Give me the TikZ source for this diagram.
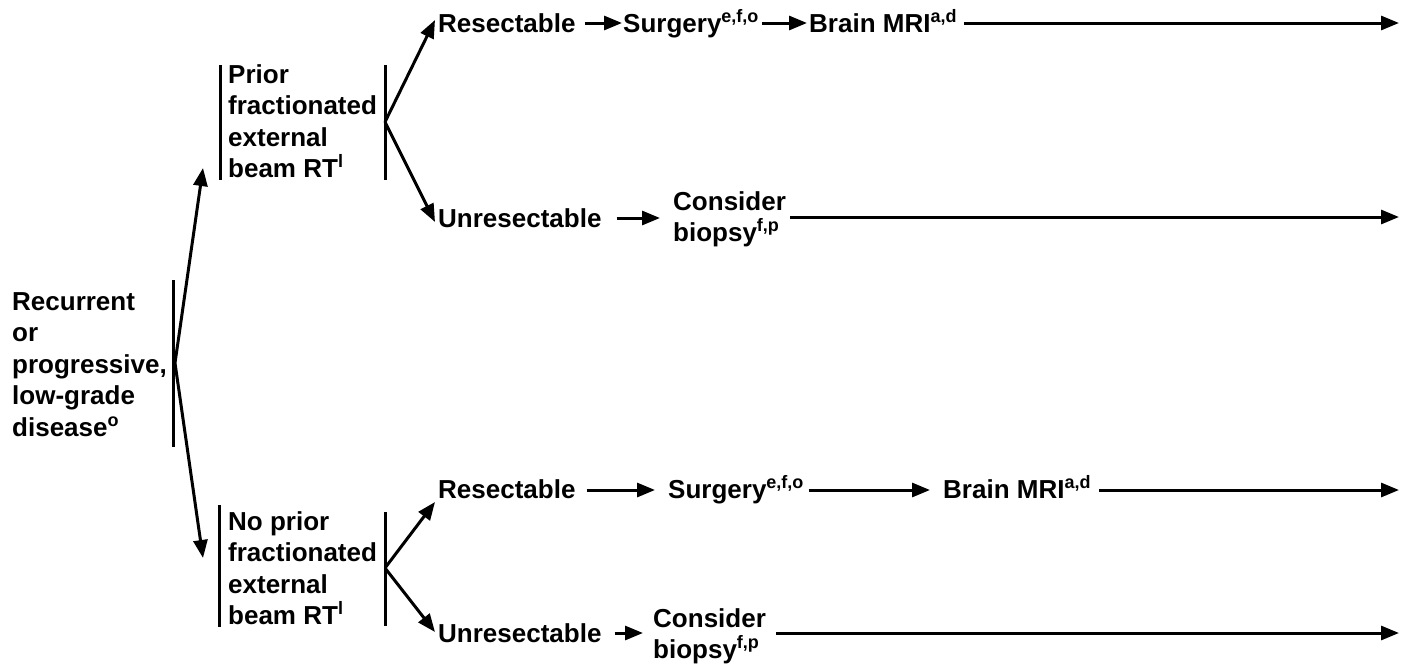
\documentclass[tikz,border=0pt]{standalone}
\usepackage{fontspec}
\setmainfont{Liberation Sans}
\usetikzlibrary{arrows.meta,calc}
% raised footnote-style letters
\newcommand{\supx}[1]{\raisebox{10pt}{\fontsize{18}{18}\selectfont #1}}
% fixed height for the first line of stacked labels
\newcommand{\topstrut}{\rule{0pt}{20pt}}
\begin{document}
\begin{tikzpicture}[x=1pt,y=-1pt,
  txt/.style={font=\fontsize{26}{31.5}\selectfont\bfseries, inner sep=0pt},
  one/.style={txt, anchor=base west},
  multi/.style={txt, align=left, anchor=north west},
  bar/.style={line width=3pt},
  arr/.style={line width=3pt, -{Triangle[length=18pt,width=14pt]}}]
\useasboundingbox (0,0) rectangle (1401,664);

% starting condition
\node[multi] (dis) at (12,290) {\topstrut Recurrent\\or\\progressive,\\low-grade\\disease\supx{o}};
\draw[bar] (173,280) -- (173,447);
\coordinate (s0) at (175,363);

% prior RT branch
\node[multi] (prior) at (228,63) {\topstrut Prior\\fractionated\\external\\beam RT\supx{l}};
\draw[bar] (220,65) -- (220,180);
\draw[bar] (385,65) -- (385,180);
\coordinate (s1) at (385,122);
\coordinate (t1) at (203,168);
\draw[arr] (s0) -- (t1);

\node[one] (res1) at (438,32) {Resectable};
\node[one] (surg1) at (623,32) {Surgery\supx{e,f,o}};
\node[one] (mri1) at (809,32) {Brain MRI\supx{a,d}};
\coordinate (e1) at (1399,23);
\draw[arr] (s1) -- ([shift={(-3,-12)}]res1.base west);
\draw[arr] ([shift={(9,-9)}]res1.base east) -- ([shift={(-1,-9)}]surg1.base west);
\draw[arr] ([shift={(3,-9)}]surg1.base east) -- ([shift={(-2,-9)}]mri1.base west);
\draw[arr] ($(mri1.base east |- e1)+(7,0)$) -- (e1);

\node[one] (unres1) at (438,227) {Unresectable};
\node[multi] (cons1) at (673,190) {\topstrut Consider\\biopsy\supx{f,p}};
\coordinate (e2) at (1399,217);
\draw[arr] (s1) -- ([shift={(-3,-5)}]unres1.base west);
\draw[arr] ([shift={(15,-9)}]unres1.base east) -- ([shift={(-13,-9)}]unres1.base west -| cons1.west);
\draw[arr] ($(cons1.east |- e2)+(4,0)$) -- (e2);

% no prior RT branch
\node[multi] (nop) at (228,510) {\topstrut No prior\\fractionated\\external\\beam RT\supx{l}};
\draw[bar] (219,505) -- (219,627);
\draw[bar] (385,512) -- (385,626);
\coordinate (s2) at (385,568);
\coordinate (t2) at (203,558);
\draw[arr] (s0) -- (t2);

\node[one] (res2) at (438,498) {Resectable};
\node[one] (surg2) at (668,498) {Surgery\supx{e,f,o}};
\node[one] (mri2) at (943,498) {Brain MRI\supx{a,d}};
\coordinate (e3) at (1399,490);
\draw[arr] (s2) -- ([shift={(-3,4)}]res2.base west);
\draw[arr] ([shift={(11,-8)}]res2.base east) -- ([shift={(-13,-8)}]surg2.base west);
\draw[arr] ([shift={(5,-8)}]surg2.base east) -- ([shift={(-13,-8)}]mri2.base west);
\draw[arr] ($(mri2.base east |- e3)+(8,0)$) -- (e3);

\node[one] (unres2) at (438,642) {Unresectable};
\node[multi] (cons2) at (653,607) {\topstrut Consider\\biopsy\supx{f,p}};
\coordinate (e4) at (1399,633);
\draw[arr] (s2) -- ([shift={(-3,-10)}]unres2.base west);
\draw[arr] ([shift={(13,-9)}]unres2.base east) -- ([shift={(-10,-9)}]unres2.base west -| cons2.west);
\draw[arr] ($(cons2.east |- e4)+(10,0)$) -- (e4);
\end{tikzpicture}
\end{document}
